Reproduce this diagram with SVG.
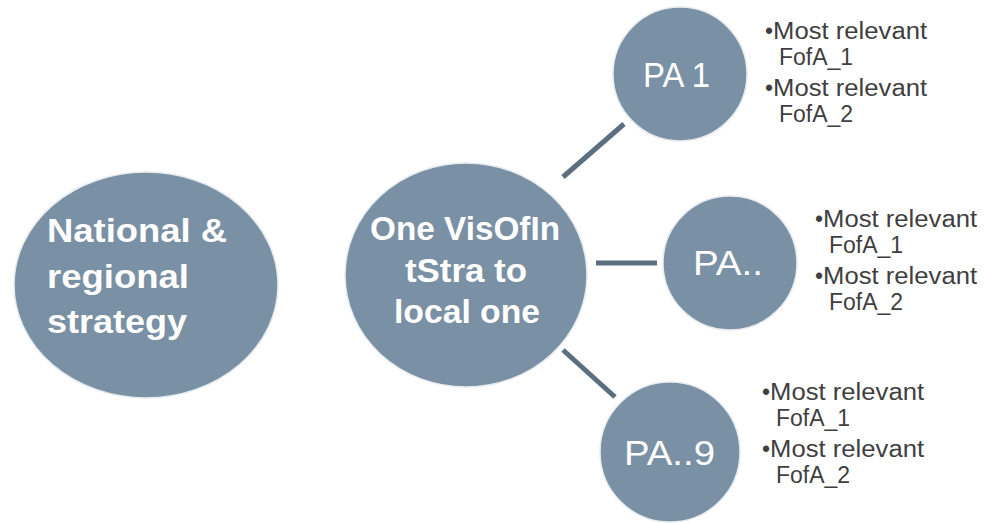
<svg xmlns="http://www.w3.org/2000/svg" width="988" height="523" viewBox="0 0 988 523">
  <defs>
    <filter id="soft" x="-20%" y="-100%" width="140%" height="400%">
      <feGaussianBlur in="SourceAlpha" stdDeviation="2.5"/>
      <feOffset dx="0" dy="4" result="b"/>
      <feComponentTransfer><feFuncA type="linear" slope="0.35"/></feComponentTransfer>
      <feMerge><feMergeNode/><feMergeNode in="SourceGraphic"/></feMerge>
    </filter>
  </defs>
  <style>
    .node { fill: #7a90a4; stroke: #e6ebef; stroke-width: 1.5; }
    .big { font-family: "Liberation Sans", Arial, sans-serif; font-weight: bold; font-size: 33px; fill: #ffffff; }
    .pa { font-family: "Liberation Sans", Arial, sans-serif; font-size: 35px; fill: #ffffff; }
    .note { font-family: "Liberation Sans", Arial, sans-serif; font-size: 23px; fill: #3f3f3f; }
    .link { stroke: #5c6f80; stroke-width: 5; }
  </style>
  <rect width="988" height="523" fill="#ffffff"/>

  <g id="connectors">
    <line x1="283" y1="276" x2="338" y2="276" stroke="#4e4e4e" stroke-width="6" filter="url(#soft)"/>
    <line class="link" x1="563" y1="177" x2="624" y2="124"/>
    <line class="link" x1="596" y1="263" x2="657" y2="263"/>
    <line class="link" x1="563" y1="350" x2="615" y2="397"/>
  </g>

  <g id="national">
    <ellipse class="node" cx="146" cy="285" rx="132" ry="113"/>
    <text class="big" x="47" y="242" textLength="180" lengthAdjust="spacingAndGlyphs">National &amp;</text>
    <text class="big" x="47" y="288" textLength="142" lengthAdjust="spacingAndGlyphs">regional</text>
    <text class="big" x="47" y="333" textLength="140" lengthAdjust="spacingAndGlyphs">strategy</text>
  </g>

  <g id="vision">
    <ellipse class="node" cx="466" cy="275" rx="121" ry="112"/>
    <text class="big" x="370" y="240" textLength="190" lengthAdjust="spacingAndGlyphs">One VisOfIn</text>
    <text class="big" x="405" y="282" textLength="122" lengthAdjust="spacingAndGlyphs">tStra to</text>
    <text class="big" x="394" y="323" textLength="146" lengthAdjust="spacingAndGlyphs">local one</text>
  </g>

  <g id="pa1">
    <circle class="node" cx="680" cy="74" r="67"/>
    <text class="pa" x="643" y="87" textLength="67" lengthAdjust="spacingAndGlyphs">PA 1</text>
  </g>

  <g id="pa-mid">
    <circle class="node" cx="730" cy="263" r="67"/>
    <text class="pa" x="693" y="275" textLength="70" lengthAdjust="spacingAndGlyphs">PA..</text>
  </g>

  <g id="pa9">
    <circle class="node" cx="670" cy="452" r="70"/>
    <text class="pa" x="624" y="465" textLength="91" lengthAdjust="spacingAndGlyphs">PA..9</text>
  </g>

  <g id="notes-pa1" class="note">
    <text x="765" y="39">•<tspan textLength="154" lengthAdjust="spacingAndGlyphs">Most relevant</tspan></text>
    <text x="779" y="65">FofA_1</text>
    <text x="765" y="96">•<tspan textLength="154" lengthAdjust="spacingAndGlyphs">Most relevant</tspan></text>
    <text x="779" y="122">FofA_2</text>
  </g>

  <g id="notes-pa-mid" class="note">
    <text x="815" y="227">•<tspan textLength="154" lengthAdjust="spacingAndGlyphs">Most relevant</tspan></text>
    <text x="829" y="253">FofA_1</text>
    <text x="815" y="284">•<tspan textLength="154" lengthAdjust="spacingAndGlyphs">Most relevant</tspan></text>
    <text x="829" y="310">FofA_2</text>
  </g>

  <g id="notes-pa9" class="note">
    <text x="762" y="400">•<tspan textLength="154" lengthAdjust="spacingAndGlyphs">Most relevant</tspan></text>
    <text x="776" y="426">FofA_1</text>
    <text x="762" y="457">•<tspan textLength="154" lengthAdjust="spacingAndGlyphs">Most relevant</tspan></text>
    <text x="776" y="483">FofA_2</text>
  </g>
</svg>
